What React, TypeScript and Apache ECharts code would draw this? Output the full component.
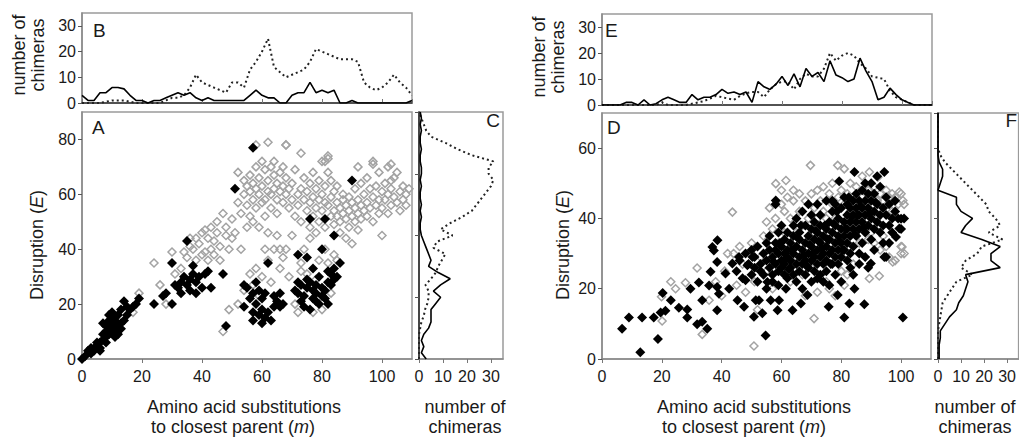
import React, { useEffect, useRef } from "react";
import * as echarts from "echarts";

// ---------- bins ----------
const binsX = [0,2,4,6,8,10,12,14,16,18,20,22,24,26,28,30,32,34,36,38,40,42,44,46,48,50,52,54,56,58,60,62,64,66,68,70,72,74,76,78,80,82,84,86,88,90,92,94,96,98,100,102,104,106,108,110];
const binsC = [0,2,4,6,8,10,12,14,16,18,20,22,24,26,28,30,32,34,36,38,40,42,44,46,48,50,52,54,56,58,60,62,64,66,68,70,72,74,76,78,80];
const binsF = [0,2,4,6,8,10,12,14,16,18,20,22,24,26,28,30,32,34,36,38,40,42,44,46,48,50,52,54,56,58,60,62,64,66,68,70];

// ---------- B (histogram over m, left) ----------
const bSolid = [3,1,1,4,4,6,6,5.5,3,1, 1,0,1,1,2,3,4,3,4,2, 1,2,1,1,1,1,1,1,3,5, 3,2,2,0,0,3,4,4,8,4, 5,4,5,0,0,1,0,0,0,0, 0,0,0,0,0,1];
const bDotted = [0,0,0,0,0.5,1,1,1,0.5,0, 0,0,0,0,1,2,2,3,6,11, 8,7,6,5,4,8,8,6,13,16, 20,25,14,12,10,11,12,13,16,21, 20,19,18,17,17,17,16,8,6,5, 6,8,11,8,6,3];

// ---------- E (histogram over m, right) ----------
const eSolid = [0,0,0,0,1,1,0,2,0,0.5, 2,3,2,1,1,4,2,3,3,4, 6,4.5,5,4,5,1,9,7,6,8, 11,7.5,12,7,14,11,12.5,9,17,11.5, 10.5,9,10,18,13,9,2,3,6.5,4, 2,1,0,0,0,0];
const eDotted = [0,0,0,0,0,0,0,0,0,0, 1,0,0,0,0,0.5,1,1.5,2.5,3.5, 3,2.5,2,3.5,4.5,5,5,3,6,8, 9,9,6,10,12,11,11,14,20,17, 19,20,19,16,14,11,10.5,10,5.5,3, 2,1,0,0,0,0];

// ---------- C (histogram over E, left) ----------
const cSolid = [3,1,2,1,2,4,5,5,5,7, 9,6,9,13,8,4,5,4,3,2, 1,0.5,0.5,1,0.5,1,0.5,0.5,1,0.5, 1,1,0.5,0.5,1,0.5,0.5,1,0.5,1, 0.5];
const cDotted = [0,0,0,0,0,0.5,1,2,2.5,3.5, 4,4,2.7,5,7,8,9.5,11,6,7.5, 14,9,13,18,22,24,26,28,30,31, 29,29,31,22,16,11,5,3,2,1, 0];

// ---------- F (histogram over E, right) ----------
const fSolid = [0.5,0.5,0.5,1,1,3,5,8,9,11, 12,13,12,27,23,23,27,19,10,12, 15,10,8,8,0,1,2,2,0.5,0, 0,0,0,0,0,0];
const fDotted = [0,0,0,0,0,0.5,1,1.5,2,4, 6,8,15,10,12,17,19,28,22,27, 25,22,21,18,15,12,9,6,3,1, 0,0,0,0,0,0];

// ---------- A scatter ----------
const aFilled = [
[0,0],[1,1],[2,3],[3,2],[3,4],[4,3],[5,5],[5,6],[6,4],[6,6],[7,7],[7,9],[7,13],[8,8],[8,10],[8,12],[9,9],[9,11],[9,14],[9,16],[10,10],[10,12],[10,13],[10,17],[11,11],[11,14],[11,15],[12,9],[12,12],[12,16],[13,13],[13,18],[14,14],[14,21],[15,16],[15,19],[16,18],[17,19],[18,20],[19,22],[8,6],[11,8],[6,3],[13,11],
[24,20],[27,23],[28,24],[30,20],[30,35],[31,27],[32,26],[33,28],[33,24],[34,30],[35,27],[35,43],[36,25],[36,29],[37,34],[37,31],[38,28],[38,24],[39,30],[40,26],[41,31],[42,32],[43,26],[47,31],[48,12],
[54,19],[54,27],[55,26],[56,22],[57,17],[57,24],[57,14],[58,20],[58,28],[59,16],[59,25],[60,13],[60,18],[60,22],[61,15],[61,24],[62,17],[62,35],[63,14],[64,19],[64,23],[65,21],[66,24],[66,19],[67,20],
[71,25],[72,24],[72,28],[73,27],[73,21],[74,19],[74,23],[75,26],[75,29],[75,37],[76,28],[76,18],[77,22],[77,25],[77,33],[78,21],[78,27],[78,24],[79,20],[79,30],[80,23],[80,26],[81,22],[81,25],[82,20],[82,28],[82,32],[83,31],[83,27],[84,29],[84,33],[85,30],[86,35],
[57,77],[51,62],[90,65],[76,51],[81,51],[84,45],[80,40],[72,38]
];
const aHollow = [
[17,17],[19,24],[24,35],[26,27],[28,20],[30,39],[31,31],[33,33],[34,39],[35,37],[36,44],[36,41],[37,40],[38,44],[38,36],[39,42],[40,38],[40,46],[41,39],[41,47],[42,36],[42,44],[43,40],[43,48],[44,38],[44,43],[45,46],[45,50],[46,41],[46,36],[47,53],[47,10],[48,45],[48,48],[49,18],[49,40],[50,51],[50,44],[51,46],[52,57],[52,68],[53,53],[53,40],[54,60],[54,65],[55,56],[55,63],[55,48],[56,61],[56,67],[56,52],[57,58],[57,64],[57,50],[58,62],[58,70],[58,55],[59,60],[59,66],[59,48],[60,63],[60,57],[60,72],[61,58],[61,69],[61,52],[62,61],[62,65],[62,46],[63,70],[63,60],[63,55],[64,67],[64,62],[64,72],[65,58],[65,64],[65,53],[66,68],[66,61],[66,40],[67,63],[67,57],[67,70],[68,60],[68,66],[68,78],[69,62],[69,55],[70,58],[70,64],[71,69],[71,52],[72,60],[72,56],[73,62],[73,50],[74,66],[74,58],[75,54],[75,61],[76,48],[76,57],[76,64],[77,59],[77,52],[77,68],[78,55],[78,62],[78,46],[79,58],[79,65],[79,50],[80,60],[80,54],[80,72],[81,57],[81,63],[81,48],[82,56],[82,68],[82,73],[83,52],[83,59],[83,65],[84,54],[84,61],[84,49],[85,57],[85,52],[85,63],[86,55],[86,50],[86,46],[87,58],[87,53],[87,60],[88,51],[88,56],[88,44],[89,54],[89,48],[89,59],[90,52],[90,57],[90,42],[91,55],[91,50],[91,62],[92,53],[92,58],[92,47],[93,56],[93,51],[93,64],[94,54],[94,60],[95,52],[95,57],[95,66],[96,55],[96,62],[97,59],[97,50],[97,71],[98,56],[98,63],[99,58],[99,53],[100,61],[100,55],[100,45],[101,64],[101,58],[102,60],[102,53],[102,70],[103,56],[103,62],[104,59],[104,66],[105,57],[105,68],[106,61],[106,54],[107,63],[107,58],[108,60],[108,56],[109,62],[99,68],[103,71],
[52,20],[54,25],[56,31],[57,27],[58,33],[59,23],[60,30],[61,40],[62,36],[63,28],[64,40],[65,45],[66,33],[67,37],[68,40],[69,30],[70,45],[71,20],[72,17],[73,35],[74,40],[75,31],[76,44],[77,17],[78,29],[79,36],[80,18],[81,40],[82,35],[83,24],[84,38],[85,36],[73,32],
[58,78],[62,79],[68,78],[73,75],[81,72],[82,74],[92,70],[97,72],[103,65]
];

// ---------- D scatter ----------
const dFilled = [
[6.7,8.6],[9,11.8],[13.4,11.8],[12.8,1.9],[17.3,11.8],[18.7,5.7],[20.3,18.8],[19.6,13.2],[21.2,13.7],[23,16.7],[25.7,14.6],[28.5,14.1],[28.5,11.8],[29.6,20],[31.8,9.9],[32.4,21.8],[33.5,10.6],[35.2,8.6],[33.5,16.7],[35.8,20.9],[36.3,24.8],[36.9,31.9],[37.4,30.9],[38.6,33.8],[38.5,27.6],[38.5,13.9],[39.1,18.6],[38.5,20.5],[41.3,24.3],[42.5,20],[43.6,27.2],[45.3,16.7],[45.8,29],[47.5,14.9],[48,22.4],[48.6,26.7],[50.3,29],[50.8,12],[51.4,16.7],[52.5,16.7],[53.6,13],[54.7,6.7],[55.3,21.9],[56.4,16.7],[58.1,45.1],[58.7,13.9],[59.2,16.7],[61.5,20],[63.7,13.9],[66.5,15.8],[68.7,18.2],[72,22.9],[75.8,14.9],[78.8,18.2],[81,11.8],[82.7,15.8],[84.4,20],[87.7,15.6],[100.6,11.8],[79.3,50.6],[84.4,53.2],[94.4,53.2],[100,39.9],[99.4,37.1],[98.3,34.7],[94.4,29],[89.9,27.2],
[45,25],[46,28],[47,23],[48,30],[49,27],[50,24],[50,31],[51,26],[51,29],[52,22],[52,32],[53,27],[53,25],[54,30],[54,24],[55,28],[55,33],[55,20],
[56,26],[56,31],[56,35],[57,24],[57,29],[57,22],[58,27],[58,33],[58,31],[58,44],[59,25],[59,30],[59,36],[59,21],[60,28],[60,32],[60,26],[60,38],[61,24],[61,30],[61,34],[61,27],[62,29],[62,23],[62,36],[62,31],[63,26],[63,33],[63,28],
[64,30],[64,24],[64,35],[64,38],[65,27],[65,32],[65,22],[65,40],[66,29],[66,25],[66,34],[66,36],[67,31],[67,27],[67,42],[67,20],[68,33],[68,28],[68,24],[68,38],[69,30],[69,26],[69,35],[69,44],[70,32],[70,28],[70,22],[70,37],[70,41],
[71,29],[71,34],[71,25],[71,39],[72,31],[72,27],[72,36],[72,44],[73,33],[73,24],[73,29],[73,38],[73,41],[74,30],[74,35],[74,27],[74,22],[75,32],[75,37],[75,28],[75,45],[75,25],[76,34],[76,30],[76,39],[76,21],[77,31],[77,36],[77,27],[77,42],[77,45],[78,33],[78,29],[78,38],[78,24],[78,44],
[79,35],[79,31],[79,40],[79,27],[80,37],[80,33],[80,29],[80,43],[80,22],[81,35],[81,39],[81,31],[81,46],[82,37],[82,41],[82,33],[82,28],[82,44],[83,39],[83,35],[83,43],[83,30],[83,26],[84,41],[84,37],[84,45],[84,32],[84,24],[85,39],[85,43],[85,35],[85,47],[86,41],[86,37],[86,45],[86,30],[86,27],
[87,43],[87,39],[87,48],[87,33],[88,41],[88,45],[88,36],[88,50],[88,29],[89,43],[89,38],[89,47],[89,26],[90,40],[90,45],[90,34],[90,50],[91,42],[91,37],[91,47],[91,31],[92,44],[92,39],[92,52],[93,41],[93,36],[93,49],[94,43],[94,38],[94,33],[95,41],[95,46],[95,29],[96,38],[96,44],[96,33],[97,40],[97,36],[98,42],[98,45],[99,40],[100,37],[101,40],
[57.5,27.5],[59.5,33],[61.5,28.5],[63.5,31],[65.5,34.5],[67.5,29.5],[69.5,32.5],[71.5,36.5],[73.5,31.5],[75.5,34],[77.5,38.5],[79.5,33.5],[81.5,37],[83.5,40.5],[85.5,41],[87.5,37.5],[89.5,41.5],[91.5,44.5],[66.5,38],[70.5,30],[74.5,38],[78.5,42],[82.5,46],[86.5,43.5],[62.5,25.5],[68.5,26.5],[72.5,33.5],[76.5,27],[80.5,31],[84.5,35.5]
];
const dHollow = [
[43.6,41.8],[58.1,49.9],[61.5,50.8],[69.7,55.1],[78.8,55.1],[81,54.1],[70.9,11.5],[50.8,3.7],[31.8,25.9],[23,22],[24.6,20],[27.9,21.7],[20.1,10.8],[19.9,17.7],[33.5,7],[35.8,16.7],[89.4,53.2],[92.2,51.7],[92.7,23.6],[89.4,22.9],[97.2,27.6],[100,30],[100.3,31.9],[99.4,47.5],[100.6,45.1],
[38,22],[40,18],[41,25],[42,30],[44,30],[45,21],[46,32],[47,27],[48,19],[50,33],[51,22],[52,14],[53,29],[54,35],[55,25],[55,39],[56,43],[57,37],[57,20],[58,40],[59,33],[60,44],[60,48],[61,36],[61,42],[62,46],[62,27],[63,40],[63,22],[64,45],[64,48],[65,36],[65,29],[66,47],[66,42],[67,38],[67,24],[68,45],[68,18],[69,40],[69,33],[70,47],[70,26],[71,43],[71,36],[72,40],[72,48],[72,19],[73,45],[73,35],[74,42],[74,49],[75,40],[75,22],[76,47],[76,36],[76,20],[77,44],[77,50],[78,40],[78,35],[78,18],[79,46],[79,43],[80,48],[80,38],[80,25],[81,44],[81,21],[82,47],[82,24],[83,42],[83,50],[83,36],[84,46],[84,27],[85,44],[85,49],[86,42],[86,33],[87,46],[87,52],[88,43],[88,38],[89,48],[89,34],[90,46],[90,42],[90,36],[91,49],[91,33],[92,45],[92,40],[93,47],[93,31],[94,45],[94,35],[95,48],[95,32],[96,46],[96,29],[97,47],[97,42],[98,46],[98,28],[99,44],[100,47],[101,44],[100,32],[101,30]
];

const FONT = "'Liberation Sans', Arial, sans-serif";
const TXT = "#1a1a1a";
const FRAME = "#9a9a9a";

function App() {
  const ref = useRef<HTMLDivElement>(null);
  useEffect(() => {
    if (!ref.current) return;
    const chart = echarts.init(ref.current, null, { renderer: "svg" });

    const grid = (left: number, top: number, width: number, height: number) => ({
      left, top, width, height, show: true, borderColor: FRAME, borderWidth: 1.5, backgroundColor: "transparent",
    });

    const xAx = (gi: number, max: number, interval: number, labels: boolean, tickInside: boolean, lineColor: string) => ({
      type: "value", gridIndex: gi, min: 0, max, interval,
      axisLine: { show: true, onZero: false, lineStyle: { color: lineColor, width: 1.5 } },
      axisTick: { show: true, inside: tickInside, length: 4, lineStyle: { color: "#777" } },
      splitLine: { show: false },
      axisLabel: { show: labels, fontSize: 16, fontFamily: FONT, color: TXT, margin: 9, showMaxLabel: false },
    });
    const yAx = (gi: number, max: number, interval: number, labels: boolean, lineColor: string) => ({
      type: "value", gridIndex: gi, min: 0, max, interval,
      axisLine: { show: true, onZero: false, lineStyle: { color: lineColor, width: 1.5 } },
      axisTick: { show: true, length: 4, lineStyle: { color: "#555" } },
      splitLine: { show: false },
      axisLabel: { show: labels, fontSize: 16, fontFamily: FONT, color: TXT, margin: 6, showMaxLabel: false },
    });

    const solid = { color: "#000", width: 1.6 };
    const dotted = { color: "#222", width: 2, type: [2, 3] as any };

    const lineS = (xi: number, data: number[][], ls: any) => ({
      type: "line", xAxisIndex: xi, yAxisIndex: xi, data, showSymbol: false, symbol: "none",
      lineStyle: ls, silent: true, z: 3,
    });
    const hollowS = (xi: number, data: number[][]) => ({
      type: "scatter", xAxisIndex: xi, yAxisIndex: xi, data, symbol: "diamond", symbolSize: 8,
      itemStyle: { color: "rgba(255,255,255,0)", borderColor: "#a3a3a3", borderWidth: 1.5, opacity: 1 }, silent: true, z: 2,
    });
    const filledS = (xi: number, data: number[][]) => ({
      type: "scatter", xAxisIndex: xi, yAxisIndex: xi, data, symbol: "diamond", symbolSize: 10,
      itemStyle: { color: "#000", opacity: 1 }, silent: true, z: 4,
    });

    const txt = (text: string, x: number, y: number, opts: any = {}) => ({
      type: "text", x, y, rotation: opts.rotation || 0, silent: true,
      style: {
        text, fill: TXT, fontSize: opts.fontSize || 18, fontFamily: FONT,
        align: opts.align || "center", textAlign: opts.align || "center",
        verticalAlign: "middle", textVerticalAlign: "middle",
        lineHeight: opts.lineHeight || 20,
        rich: {
          n: { fontSize: opts.fontSize || 18, fontFamily: FONT, fill: TXT, color: TXT },
          i: { fontSize: opts.fontSize || 18, fontFamily: FONT, fontStyle: "italic", fill: TXT, color: TXT },
        },
      },
    });

    const option: any = {
      animation: false,
      grid: [
        grid(82, 13, 330, 90),
        grid(82, 112, 330, 247),
        grid(419, 112, 84, 247),
        grid(602, 14, 330, 91),
        grid(602, 113, 329, 246),
        grid(938, 113, 88, 246),
      ],
      xAxis: [
        xAx(0, 110, 20, false, true, "#333"),
        xAx(1, 110, 20, true, false, "#8a8a8a"),
        xAx(2, 35, 10, true, false, "#8a8a8a"),
        xAx(3, 110, 20, false, true, "#333"),
        xAx(4, 110, 20, true, false, "#8a8a8a"),
        xAx(5, 35, 10, true, false, "#8a8a8a"),
      ],
      yAxis: [
        yAx(0, 35, 10, true, "#8a8a8a"),
        yAx(1, 90, 20, true, "#8a8a8a"),
        yAx(2, 80, 20, false, "#222"),
        yAx(3, 35, 10, true, "#8a8a8a"),
        yAx(4, 70, 20, true, "#8a8a8a"),
        yAx(5, 70, 20, false, "#222"),
      ],
      series: [
        lineS(0, binsX.map((x, i) => [x, bDotted[i]]), dotted),
        lineS(0, binsX.map((x, i) => [x, bSolid[i]]), solid),
        hollowS(1, aHollow),
        filledS(1, aFilled),
        lineS(2, binsC.map((e, i) => [cDotted[i], e]), dotted),
        lineS(2, binsC.map((e, i) => [cSolid[i], e]), solid),
        lineS(3, binsX.map((x, i) => [x, eDotted[i]]), dotted),
        lineS(3, binsX.map((x, i) => [x, eSolid[i]]), solid),
        hollowS(4, dHollow),
        filledS(4, dFilled),
        lineS(5, binsF.map((e, i) => [fDotted[i], e]), dotted),
        lineS(5, binsF.map((e, i) => [fSolid[i], e]), solid),
      ],
      graphic: [
        txt("number of\nchimeras", 28, 55, { rotation: Math.PI / 2, lineHeight: 19 }),
        txt("number of\nchimeras", 548, 57, { rotation: Math.PI / 2, lineHeight: 19 }),
        txt("{n|Disruption (}{i|E}{n|)}", 37, 245, { rotation: Math.PI / 2 }),
        txt("{n|Disruption (}{i|E}{n|)}", 563, 245, { rotation: Math.PI / 2 }),
        txt("Amino acid substitutions", 244, 407),
        txt("{n|to closest parent (}{i|m}{n|)}", 233, 427),
        txt("Amino acid substitutions", 754, 407),
        txt("{n|to closest parent (}{i|m}{n|)}", 744, 427),
        txt("number of", 465, 407),
        txt("chimeras", 465, 427),
        txt("number of", 975, 407),
        txt("chimeras", 975, 427),
        txt("B", 93, 30, { align: "left", fontSize: 19 }),
        txt("A", 92, 127, { align: "left", fontSize: 19 }),
        txt("C", 500, 120, { align: "right", fontSize: 19 }),
        txt("E", 605, 30, { align: "left", fontSize: 19 }),
        txt("D", 607, 127, { align: "left", fontSize: 19 }),
        txt("F", 1017, 120, { align: "right", fontSize: 19 }),
      ],
    };
    chart.setOption(option);
    return () => chart.dispose();
  }, []);
  return <div ref={ref} style={{ position: "absolute", left: 0, top: 0, width: 1019, height: 438, background: "#fff" }} />;
}

export default App;
